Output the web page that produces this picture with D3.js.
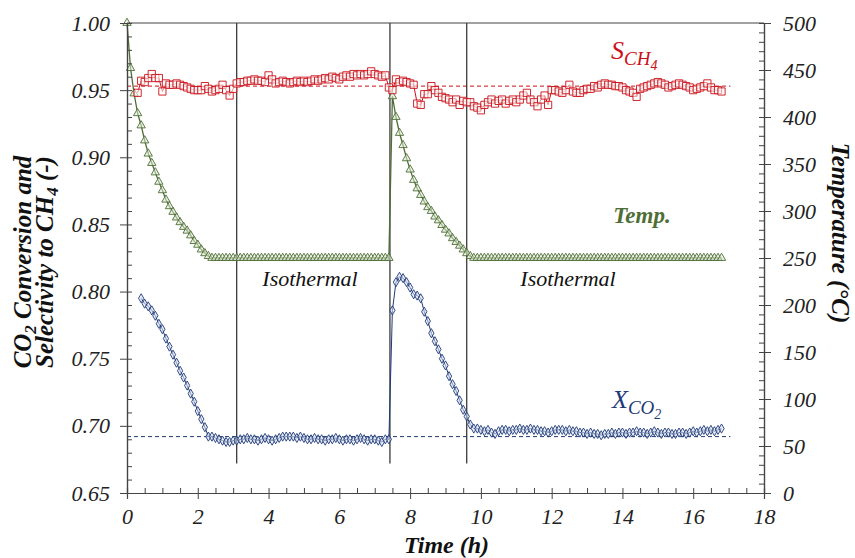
<!DOCTYPE html>
<html>
  <head>
    <meta charset="utf-8">
    <title>CO2 conversion, selectivity and temperature</title>
    <script type="text/javascript" src="https://d3js.org/d3.v7.min.js"></script>
    <style>
      html, body { margin: 0; background: #fff; }
      text { font-family: "Liberation Serif", "Times New Roman", serif; }
    </style>
  </head>
  <body>
    <script>

    // sampling: one point every 0.1 h
    var step = 0.1;

    // temperature (°C), from t = 0 h
    var tempStart = 0;
    var tempValues = [
      500,452,425,404,391,375,361,351,341,331,
      322,312,305,299,293,288,283,279,274,268,
      264,259,255,252,250,250,250,250,250,250,
      250,250,250,250,250,250,250,250,250,250,
      250,250,250,250,250,250,250,250,250,250,
      250,250,250,250,250,250,250,250,250,250,
      250,250,250,250,250,250,250,250,250,250,
      250,250,250,250,250,422,400,383,370,356,
      344,333,324,317,310,304,300,294,290,285,
      280,276,271,267,263,259,255,252,250,250,
      250,250,250,250,250,250,250,250,250,250,
      250,250,250,250,250,250,250,250,250,250,
      250,250,250,250,250,250,250,250,250,250,
      250,250,250,250,250,250,250,250,250,250,
      250,250,250,250,250,250,250,250,250,250,
      250,250,250,250,250,250,250,250,250,250,
      250,250,250,250,250,250,250,250,250
    ];

    // selectivity to CH4 (-), from t = 0.3 h
    var selStart = 0.3;
    var selValues = [
      0.948,0.957,0.956,0.959,0.962,0.959,0.959,0.949,0.955,0.954,
      0.954,0.955,0.954,0.953,0.952,0.951,0.950,0.950,0.950,0.953,
      0.951,0.949,0.950,0.951,0.954,0.950,0.946,0.951,0.955,0.956,
      0.956,0.957,0.957,0.958,0.957,0.957,0.956,0.961,0.958,0.955,
      0.956,0.957,0.956,0.955,0.956,0.957,0.956,0.957,0.956,0.957,
      0.958,0.957,0.958,0.959,0.958,0.960,0.959,0.958,0.960,0.961,
      0.960,0.962,0.961,0.962,0.961,0.962,0.964,0.962,0.961,0.960,
      0.961,0.952,0.950,0.958,0.956,0.957,0.956,0.955,0.954,0.940,
      0.939,0.947,0.947,0.953,0.950,0.948,0.945,0.944,0.943,0.941,
      0.943,0.939,0.942,0.941,0.941,0.938,0.937,0.935,0.939,0.941,
      0.943,0.940,0.942,0.943,0.940,0.942,0.943,0.941,0.943,0.946,
      0.948,0.943,0.941,0.938,0.943,0.946,0.939,0.950,0.950,0.949,
      0.948,0.950,0.954,0.949,0.948,0.948,0.950,0.951,0.951,0.953,
      0.952,0.954,0.955,0.954,0.954,0.953,0.953,0.952,0.950,0.949,
      0.948,0.945,0.951,0.952,0.953,0.954,0.955,0.956,0.955,0.954,
      0.952,0.953,0.954,0.955,0.954,0.953,0.952,0.950,0.951,0.952,
      0.953,0.955,0.952,0.950,0.950,0.949
    ];

    // CO2 conversion (-), from t = 0.4 h
    var convStart = 0.4;
    var convValues = [
      0.795,0.791,0.789,0.786,0.782,0.776,0.772,0.765,0.759,0.753,
      0.747,0.741,0.736,0.730,0.724,0.718,0.711,0.705,0.699,0.692,
      0.692,0.691,0.690,0.689,0.688,0.688,0.689,0.689,0.690,0.690,
      0.691,0.690,0.690,0.689,0.690,0.691,0.690,0.689,0.690,0.691,
      0.692,0.692,0.692,0.692,0.691,0.692,0.691,0.690,0.690,0.691,
      0.690,0.690,0.689,0.690,0.690,0.691,0.690,0.689,0.690,0.690,
      0.689,0.690,0.691,0.690,0.689,0.690,0.690,0.689,0.688,0.690,
      0.690,0.786,0.807,0.811,0.810,0.807,0.803,0.798,0.797,0.795,
      0.785,0.778,0.769,0.763,0.757,0.750,0.745,0.737,0.731,0.726,
      0.719,0.712,0.707,0.701,0.698,0.698,0.697,0.696,0.697,0.695,
      0.694,0.696,0.697,0.697,0.696,0.697,0.697,0.698,0.697,0.697,
      0.698,0.697,0.697,0.696,0.696,0.695,0.696,0.697,0.697,0.697,
      0.696,0.697,0.696,0.696,0.695,0.695,0.694,0.695,0.694,0.694,
      0.693,0.694,0.694,0.695,0.694,0.695,0.695,0.694,0.695,0.695,
      0.696,0.695,0.695,0.694,0.695,0.696,0.695,0.694,0.695,0.695,
      0.694,0.694,0.695,0.695,0.694,0.695,0.696,0.695,0.696,0.697,
      0.696,0.697,0.696,0.697,0.698
    ];

    // reference levels and isothermal boundaries
    var selRef = 0.953;
    var convRef = 0.692;
    var refEnd = 17.05;
    var stageTimes = [3.1, 7.43, 9.6];

    var xTicks = [0,2,4,6,8,10,12,14,16,18];
    var leftTicks = [0.65,0.70,0.75,0.80,0.85,0.90,0.95,1.00];
    var rightTicks = [0,50,100,150,200,250,300,350,400,450,500];

    var red = "#cc1018", green = "#4e6e36", navy = "#1f3a78";

    function toPoints(start, values) {
      return values.map(function(v, i) { return {t: start + i * step, v: v}; });
    }

    var W = 855, H = 558;
    var L = 127, R = 764, T = 23, B = 493;

    var svg = d3.select("body").append("svg")
                .attr("width", W).attr("height", H);

    var x = d3.scaleLinear().domain([0, 18]).range([L, R]);
    var yL = d3.scaleLinear().domain([0.65, 1.0]).range([B, T]);
    var yR = d3.scaleLinear().domain([0, 500]).range([B, T]);

    // reference dashes
    svg.append("line")
       .attr("x1", x(0)).attr("x2", x(refEnd))
       .attr("y1", yL(selRef)).attr("y2", yL(selRef))
       .attr("stroke", red).attr("stroke-width", 1).attr("stroke-dasharray", "4,3");
    svg.append("line")
       .attr("x1", x(0)).attr("x2", x(refEnd))
       .attr("y1", yL(convRef)).attr("y2", yL(convRef))
       .attr("stroke", navy).attr("stroke-width", 1).attr("stroke-dasharray", "4,3");

    // stage boundaries
    svg.selectAll("line.stage")
       .data(stageTimes)
       .enter().append("line")
       .attr("class", "stage")
       .attr("x1", function(d) { return x(d); }).attr("x2", function(d) { return x(d); })
       .attr("y1", T).attr("y2", yL(0.672))
       .attr("stroke", "#2a2a2a").attr("stroke-width", 1.2);

    function drawSeries(pts, yScale, color, symbol, size, fill, lw) {
      var line = d3.line()
                   .x(function(d) { return x(d.t); })
                   .y(function(d) { return yScale(d.v); });
      svg.append("path").datum(pts)
         .attr("d", line).attr("fill", "none")
         .attr("stroke", color).attr("stroke-width", lw);
      svg.append("g").selectAll("path")
         .data(pts)
         .enter().append("path")
         .attr("d", d3.symbol().type(symbol).size(size))
         .attr("transform", function(d) { return "translate(" + x(d.t) + "," + yScale(d.v) + ")"; })
         .attr("fill", fill).attr("fill-opacity", 0.55)
         .attr("stroke", color).attr("stroke-width", 0.9);
    }

    drawSeries(toPoints(tempStart, tempValues), yR, green, d3.symbolTriangle, 30, "#dfe9d4", 1.3);
    drawSeries(toPoints(selStart, selValues), yL, red, d3.symbolSquare, 52, "#ffffff", 1);
    drawSeries(toPoints(convStart, convValues), yL, navy, d3.symbolDiamond, 24, "#d6deef", 1);

    // axes
    var axisColor = "#444";
    var tickFont = function(g) {
      g.select(".domain").attr("stroke", axisColor).attr("stroke-width", 1.2);
      g.selectAll(".tick line").attr("stroke", axisColor);
      g.selectAll("text").attr("fill", "#222").attr("font-size", 22)
        .attr("font-style", "italic").attr("font-family", "Liberation Serif, serif");
    };

    svg.append("g").attr("transform", "translate(0," + B + ")")
       .call(d3.axisBottom(x).tickValues(xTicks).tickSize(6).tickPadding(9).tickFormat(d3.format("d")))
       .call(tickFont);
    svg.append("g").attr("transform", "translate(0," + B + ")")
       .call(d3.axisTop(x).tickValues(d3.range(0, 18.01, 0.5)).tickSize(5).tickFormat(""))
       .call(tickFont);

    svg.append("g").attr("transform", "translate(" + L + ",0)")
       .call(d3.axisLeft(yL).tickValues(leftTicks).tickSize(7).tickPadding(10).tickFormat(d3.format(".2f")))
       .call(tickFont);
    svg.append("g").attr("transform", "translate(" + L + ",0)")
       .call(d3.axisRight(yL).tickValues(d3.range(65, 100.5, 1).map(function(v) { return v / 100; })).tickSize(5).tickFormat(""))
       .call(tickFont);

    svg.append("g").attr("transform", "translate(" + R + ",0)")
       .call(d3.axisRight(yR).tickValues(rightTicks).tickSize(7).tickPadding(12).tickFormat(d3.format("d")))
       .call(tickFont);
    svg.append("g").attr("transform", "translate(" + R + ",0)")
       .call(d3.axisLeft(yR).tickValues(d3.range(0, 501, 10)).tickSize(5).tickFormat(""))
       .call(tickFont);

    // top border
    svg.append("line").attr("x1", L).attr("x2", R).attr("y1", T).attr("y2", T)
       .attr("stroke", axisColor).attr("stroke-width", 1.2);

    // axis titles
    svg.append("text").attr("x", (L + R) / 2 + 1).attr("y", 553)
       .attr("text-anchor", "middle").attr("font-size", 24)
       .attr("font-weight", "bold").attr("font-style", "italic").attr("fill", "#111")
       .text("Time (h)");

    var lt1 = svg.append("text").attr("transform", "translate(31,262) rotate(-90)")
       .attr("text-anchor", "middle").attr("font-size", 25)
       .attr("font-weight", "bold").attr("font-style", "italic").attr("fill", "#111");
    lt1.append("tspan").text("CO");
    lt1.append("tspan").attr("font-size", 17).attr("dy", 5).text("2");
    lt1.append("tspan").attr("dy", -5).text(" Conversion and");

    var lt2 = svg.append("text").attr("transform", "translate(53,262) rotate(-90)")
       .attr("text-anchor", "middle").attr("font-size", 25)
       .attr("font-weight", "bold").attr("font-style", "italic").attr("fill", "#111");
    lt2.append("tspan").text("Selectivity to CH");
    lt2.append("tspan").attr("font-size", 17).attr("dy", 5).text("4");
    lt2.append("tspan").attr("dy", -5).text(" (-)");

    svg.append("text").attr("transform", "translate(832,233) rotate(90)")
       .attr("text-anchor", "middle").attr("font-size", 25)
       .attr("font-weight", "bold").attr("font-style", "italic").attr("fill", "#111")
       .text("Temperature (\u00B0C)");

    // annotations
    [310, 568].forEach(function(cx) {
      svg.append("text").attr("x", cx).attr("y", 286)
         .attr("text-anchor", "middle").attr("font-size", 22)
         .attr("font-style", "italic").attr("fill", "#111").text("Isothermal");
    });

    svg.append("text").attr("x", 642).attr("y", 223)
       .attr("text-anchor", "middle").attr("font-size", 23)
       .attr("font-weight", "bold").attr("font-style", "italic").attr("fill", green)
       .text("Temp.");

    var sl = svg.append("text").attr("x", 611).attr("y", 59)
       .attr("font-size", 26).attr("font-style", "italic").attr("fill", red);
    sl.append("tspan").text("S");
    sl.append("tspan").attr("font-size", 19).attr("dy", 6).text("CH");
    sl.append("tspan").attr("font-size", 14).attr("dy", 5).text("4");

    var cl = svg.append("text").attr("x", 612).attr("y", 408)
       .attr("font-size", 26).attr("font-style", "italic").attr("fill", navy);
    cl.append("tspan").text("X");
    cl.append("tspan").attr("font-size", 19).attr("dy", 6).text("CO");
    cl.append("tspan").attr("font-size", 14).attr("dy", 5).text("2");

    </script>
  </body>
</html>
